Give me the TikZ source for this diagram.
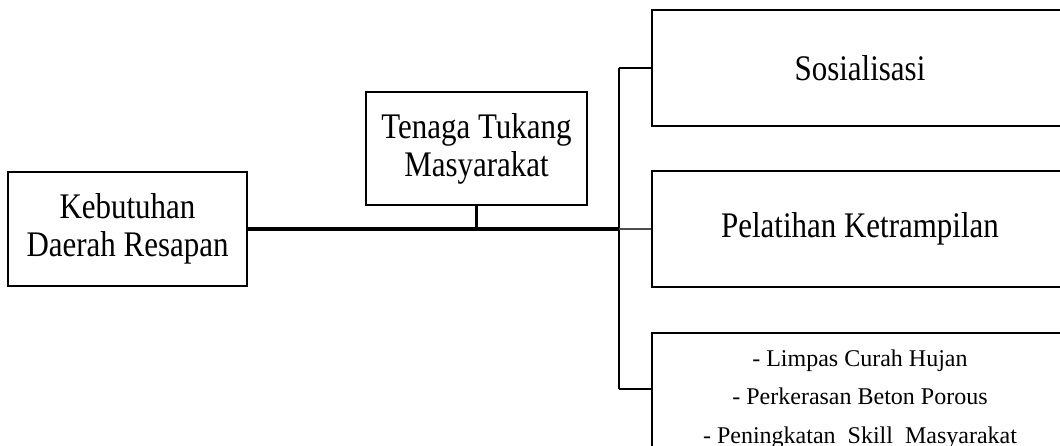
\documentclass[tikz,border=0pt]{standalone}
\usepackage{fontspec}
\setmainfont{Liberation Serif}
\newfontfamily\condfont[FakeStretch=0.86]{Liberation Serif}
\tikzset{
  box/.style={draw, line width=2.2pt, rectangle, inner sep=0pt, align=center},
  bigtext/.style={font=\condfont\fontsize{27}{28.5}\selectfont},
  smalltext/.style={font=\fontsize{18}{29}\selectfont},
  conn/.style={line width=1.8pt},
  mainline/.style={line width=2.6pt},
  thinline/.style={line width=1pt, black!70}
}
\begin{document}
\begin{tikzpicture}[x=0.75pt, y=-0.75pt]
\clip (0,0) rectangle (1060,446);
\fill[white] (0,0) rectangle (1060,446);
\node[box, bigtext, minimum width=179.25pt, minimum height=85.5pt] (left) at (127.5,229) {Kebutuhan\\Daerah Resapan};
\node[box, bigtext, minimum width=165.75pt, minimum height=84.75pt] (mid) at (476.5,148.5) {Tenaga Tukang\\Masyarakat};
\node[box, bigtext, minimum width=312pt, minimum height=87pt] (soc) at (860,68) {Sosialisasi};
\node[box, bigtext, minimum width=312pt, minimum height=87pt] (pel) at (860,229) {Pelatihan Ketrampilan};
\node[box, smalltext, minimum width=312pt, minimum height=99pt] (bot) at (860,399) {- Limpas Curah Hujan\\- Perkerasan Beton Porous\\- Peningkatan\ \ Skill\ \ Masyarakat};
\coordinate (bt) at (619,68);
\coordinate (bm) at (619,229);
\coordinate (bb) at (619,389);
\draw[mainline] (left.east) -- (bm);
\draw[conn] (mid.south) -- (mid.south |- left.east);
\draw[conn, line width=2pt] (bt) -- (bb);
\draw[conn] (bt) -- (soc.west);
\draw[thinline] (bm) -- (pel.west);
\draw[conn] (bb) -- (bot.west |- bb);
\end{tikzpicture}
\end{document}
